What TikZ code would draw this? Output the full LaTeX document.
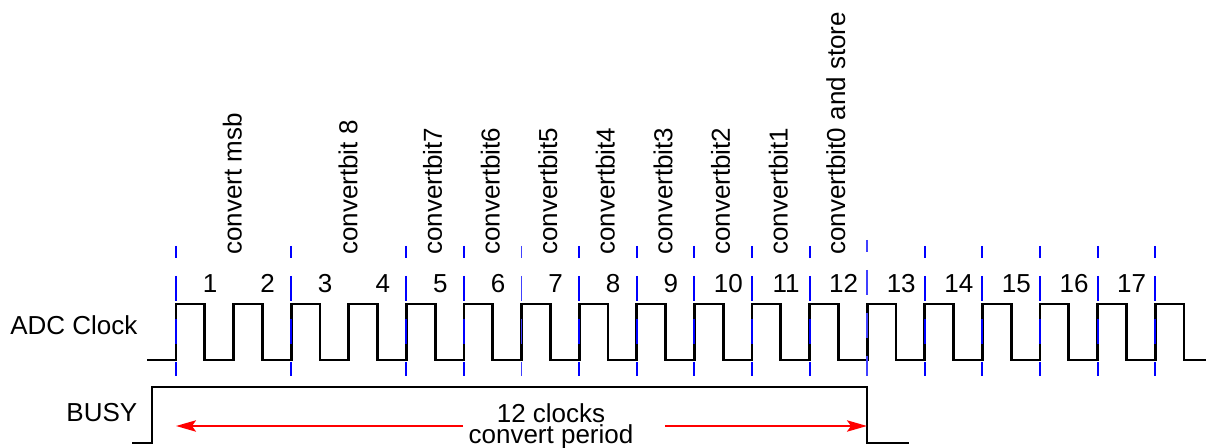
\documentclass[tikz,border=0pt]{standalone}
\usepackage{fontspec}
\setmainfont{Liberation Sans}
\usetikzlibrary{arrows.meta}

\begin{document}
\begin{tikzpicture}[x=0.75pt, y=-0.75pt,
  sig/.style={black, line width=2pt},
  tick/.style={blue, line width=1.5pt, dash pattern=on 18.75pt off 13.5pt, dash phase=9.75pt},
  faint/.style={tick, blue!75, line width=1.1pt},
  txt/.style={inner sep=0pt, font=\fontsize{19.5}{20}\selectfont},
  span/.style={red, line width=1.5pt, -{Stealth[length=15pt, width=8.5pt, inset=3pt]}}]
\useasboundingbox (0,0) rectangle (1206,448);
% ADC clock
\draw[sig] (147,360) \foreach \k in {0,...,17}
  { -- ({176+57.6*\k},360) -- ({176+57.6*\k},304) -- ({204.8+57.6*\k},304) -- ({204.8+57.6*\k},360) } -- (1206,360);
\foreach \k in {1,...,17} \node[txt, anchor=base] (n\k) at ({176+57.6*(\k-1)+34},292.5) {\k};
% BUSY
\draw[sig] (132,443) -- (152,443) -- (152,387) -- (867,387) -- (867,443) -- (909,443);
\node[txt, anchor=base west] (clk) at (10,335) {ADC Clock};
\node[txt, anchor=base east] (busy) at (137.5,421.7) {BUSY};
% edge marks
\foreach \k in {0,2,4,5,7,8,9,10,11,13,14,15,16,17} \draw[tick] ({176+57.6*\k},246) -- ++(0,130);
\draw[faint] ({176+57.6*6},246) -- ++(0,130);
\draw[faint] ({176+57.6*12},240) -- ++(0,136);
% conversion steps
\node[txt, rotate=90, anchor=base west] (s0) at (241.7,255) {convert msb};
\node[txt, rotate=90, anchor=base west] (s1) at (357.3,255) {convertbit 8};
\foreach \k/\t in {4/convertbit7, 5/convertbit6, 6/convertbit5, 7/convertbit4, 8/convertbit3, 9/convertbit2, 10/convertbit1, 11/convertbit0 and store}
  \node[txt, rotate=90, anchor=base west] (s\k) at ({176+57.6*\k+35.5},255) {\t};
% convert period
\node[txt, anchor=base] (cnt) at (551,422.7) {12 clocks};
\node[txt, anchor=base] (per) at (551,443.3) {convert period};
\coordinate (gl) at (463,426);
\coordinate (gr) at (665,426);
\coordinate (pl) at (176,426);
\coordinate (pr) at (867,426);
\draw[span] (gl) -- (pl);
\draw[span] (gr) -- (pr);
\end{tikzpicture}
\end{document}
